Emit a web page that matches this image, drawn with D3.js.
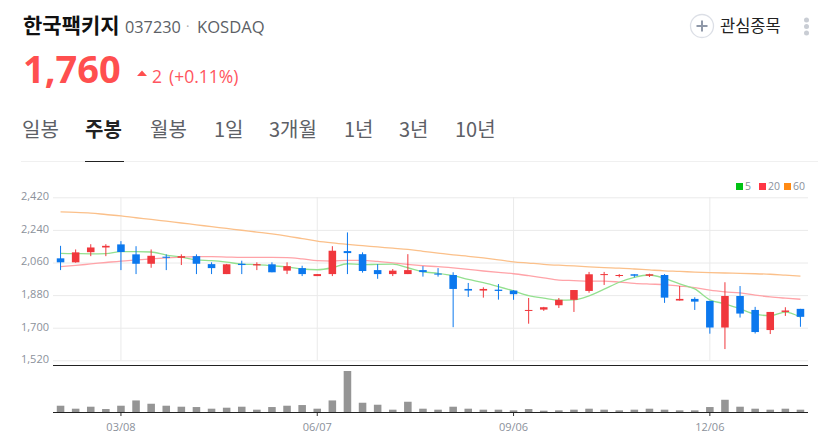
<!DOCTYPE html>
<html lang="ko">
<head>
<meta charset="utf-8">
<style>
  html, body { margin: 0; padding: 0; background: #fff; }
  svg { display: block; }
  text { font-family: "Open Sans", "Noto Sans CJK KR", sans-serif; }
  .kr { font-family: "Noto Sans CJK KR", sans-serif; }
  .axis text { font-family: "Open Sans", sans-serif; font-size: 11px; fill: #8b919b; }
  .axis .domain { display: none; }
</style>
</head>
<body>
<div id="chart-area"></div>
<script src="https://cdn.jsdelivr.net/npm/d3@7"></script>
<script>
const width = 818, height = 439;

// weekly candles
const dates = ["02/08","02/15","02/22","03/01","03/08","03/15","03/22","03/29","04/05","04/12",
  "04/19","04/26","05/03","05/10","05/17","05/24","05/31","06/07","06/14","06/21",
  "06/28","07/05","07/12","07/19","07/26","08/02","08/09","08/16","08/23","08/30",
  "09/06","09/13","09/20","09/27","10/04","10/11","10/18","10/25","11/01","11/08",
  "11/15","11/22","11/29","12/06","12/13","12/20","12/27","01/03","01/10","01/17"];
const open = [2083,2061,2117,2143,2160,2105,2053,2092,2086,2095,
  2051,1996,2053,2044,2050,2015,2029,1985,1996,2123,
  2106,2018,1996,1996,2018,1999,1991,1914,1905,1910,
  1905,1793,1800,1824,1854,1903,1991,1987,1995,1987,
  1991,1850,1859,1848,1701,1875,1798,1687,1787,1804];
const close = [2061,2116,2143,2152,2118,2053,2097,2086,2095,2053,
  2029,2050,2046,2051,2006,2040,1996,1996,2125,2112,
  2013,1996,2015,2018,2007,1993,1914,1905,1914,1903,
  1885,1798,1813,1854,1908,1995,1996,1991,1987,1995,
  1866,1859,1844,1701,1875,1778,1676,1787,1795,1760];
const high = [2152,2132,2161,2161,2178,2150,2132,2105,2105,2105,
  2061,2052,2070,2061,2061,2061,2042,1996,2150,2226,
  2116,2051,2024,2106,2040,2029,2006,1947,1923,1941,
  1908,1864,1815,1864,1908,2008,2008,1996,1995,1998,
  1996,1930,1868,1848,1951,1930,1815,1787,1813,1804];
const low = [2018,2059,2095,2095,2018,1996,2031,2018,2046,1996,
  1996,1996,1996,2018,2006,1996,1985,1985,1985,1996,
  2004,1970,1985,1996,1982,1982,1703,1870,1866,1855,
  1854,1722,1793,1809,1787,1893,1936,1978,1978,1980,
  1837,1850,1798,1667,1582,1756,1668,1665,1765,1705];
const volume = [19,10,16,9,19,35,25,19,16,15,
  10,13,16,7,15,19,21,10,35,124,
  28,22,7,31,10,7,16,10,7,7,
  5,9,4,5,7,10,7,5,7,10,
  7,5,5,15,37,16,10,7,10,7];

const ma5 = [2110,2109,2108,2109,2120,2120,2118,2101,2090,2074,
  2070,2062,2051,2048,2042,2035,2024,2020,2031,2053,
  2048,2050,2051,2031,2009,2000,1987,1967,1949,1927,
  1903,1877,1863,1852,1854,1876,1913,1951,1978,1991,
  1973,1942,1914,1854,1832,1804,1775,1766,1786,1758];
const ma20 = [2037,2044,2052,2060,2068,2074,2080,2085,2090,2092,
  2092,2090,2088,2088,2088,2087,2080,2070,2068,2072,
  2072,2066,2058,2050,2042,2037,2030,2022,2013,2005,
  1998,1987,1975,1963,1960,1957,1957,1952,1945,1941,
  1938,1930,1921,1907,1898,1892,1880,1870,1863,1857];
const ma60 = [2339,2337,2333,2325,2317,2307,2298,2288,2278,2268,
  2258,2248,2238,2228,2218,2206,2192,2178,2168,2160,
  2153,2146,2139,2132,2122,2112,2102,2094,2085,2075,
  2064,2057,2050,2045,2041,2036,2032,2029,2024,2019,
  2014,2011,2007,2004,2002,2000,1998,1995,1990,1985];

const priceTicks = [1520,1700,1880,2060,2240,2420];
const dateTicks = ["03/08","06/07","09/06","12/06"];
const periods = ["일봉","주봉","월봉","1일","3개월","1년","3년","10년"];
const periodX = [22,85,150,214,269,344,399,455];
const legendNames = ["5","20","60"];
const legendColors = ["#00c313","#ff3644","#ff8a13"];

const red = "#f0373c", blue = "#0b78ee";

const svg = d3.select("#chart-area").append("svg")
  .attr("width", width)
  .attr("height", height);

// header
const label = (x, y, size, color, txt, weight, cls) => svg.append("text")
  .attr("x", x).attr("y", y)
  .attr("font-size", size)
  .attr("font-weight", weight || 400)
  .attr("fill", color)
  .attr("class", cls || null)
  .text(txt);

label(23, 33, 21, "#111", "한국팩키지", 700, "kr");
label(125, 33, 16.3, "#5c5f66", "037230");
label(186, 31, 13, "#aaa", "·");
label(197, 33, 16.6, "#5c5f66", "KOSDAQ");
label(23, 83, 38, "#ff4f4f", "1,760", 700);
svg.append("path").attr("d", "M137 76L142 70.5L147 76Z").attr("fill", "#ff4f4f");
label(152, 83, 17.5, "#ff5560", "2");
label(169, 83, 17.5, "#ff5560", "(+0.11%)");

svg.append("circle").attr("cx", 702).attr("cy", 26).attr("r", 11.5)
  .attr("fill", "#fff").attr("stroke", "#dcdfe6").attr("stroke-width", 1.3);
svg.append("path").attr("d", "M696.5 26H707.5M702 20.5V31.5")
  .attr("stroke", "#8f98a8").attr("stroke-width", 2);
label(720, 32, 16.5, "#222", "관심종목", 400, "kr");
svg.selectAll(".dot").data([20, 26.5, 33]).enter().append("circle")
  .attr("cx", 806.5).attr("cy", d => d).attr("r", 2.5).attr("fill", "#c9cdd4");

// period tabs
periods.forEach((p, i) => {
  label(periodX[i], 137, 20, i === 1 ? "#222" : "#5d6066", p, i === 1 ? 700 : 400, "kr");
});
svg.append("line").attr("x1", 21).attr("x2", 818).attr("y1", 161.5).attr("y2", 161.5)
  .attr("stroke", "#f0f0f0");
svg.append("line").attr("x1", 85).attr("x2", 124).attr("y1", 161.5).attr("y2", 161.5)
  .attr("stroke", "#222");

// scales
const left = 53, right = 808;
const x = d3.scaleBand().domain(dates).range([left, right]).paddingInner(0.5).paddingOuter(0.25);
const cx = d => x(d) + x.bandwidth() / 2;
const y = d3.scaleLinear().domain([1520, 2420]).range([360.3, 197.3]);
const v = d3.scaleLinear().domain([0, 124]).range([412, 371]);

// grid + price axis
svg.append("g")
  .attr("class", "axis")
  .attr("transform", `translate(${left},0)`)
  .call(d3.axisLeft(y).tickValues(priceTicks).tickSize(0).tickPadding(4).tickFormat(d3.format(",")))
  .call(g => g.selectAll(".tick line").attr("x2", right - left).attr("stroke", "#eaeaea"))
  .call(g => g.selectAll(".tick text").attr("dy", "0.22em"));

svg.append("g").selectAll("line").data(dateTicks).enter().append("line")
  .attr("x1", cx).attr("x2", cx)
  .attr("y1", 197).attr("y2", 360.5)
  .attr("stroke", "#eaeaea");

// moving averages
const line = d3.line().x((d, i) => cx(dates[i])).y(d => y(d)).curve(d3.curveMonotoneX);
[[ma60, "#fbc08a"], [ma20, "#ffa3a8"], [ma5, "#93e08f"]].forEach(([s, c]) => {
  svg.append("path").datum(s)
    .attr("fill", "none")
    .attr("stroke", c)
    .attr("stroke-width", 1.3)
    .attr("d", line);
});

// candles
const candles = svg.append("g").selectAll("g").data(dates).enter().append("g");
const color = (d, i) => close[i] >= open[i] ? red : blue;
candles.append("line")
  .attr("x1", cx).attr("x2", cx)
  .attr("y1", (d, i) => y(high[i]))
  .attr("y2", (d, i) => y(low[i]))
  .attr("stroke", color);
candles.append("rect")
  .attr("x", d => x(d))
  .attr("width", x.bandwidth())
  .attr("y", (d, i) => y(Math.max(open[i], close[i])))
  .attr("height", (d, i) => Math.max(1, Math.abs(y(open[i]) - y(close[i]))))
  .attr("fill", color);

// legend
const legendX = [736, 759, 784];
legendNames.forEach((n, i) => {
  svg.append("rect").attr("x", legendX[i]).attr("y", 183).attr("width", 7).attr("height", 7)
    .attr("fill", legendColors[i]);
  label(legendX[i] + 9, 190, 10.5, "#8b919b", n);
});

// volume pane
svg.append("line").attr("x1", left).attr("x2", right).attr("y1", 365.5).attr("y2", 365.5)
  .attr("stroke", "#222").attr("stroke-width", 1);
svg.append("g").selectAll("rect").data(volume).enter().append("rect")
  .attr("x", (d, i) => x(dates[i]))
  .attr("width", x.bandwidth())
  .attr("y", d => v(d))
  .attr("height", d => v(0) - v(d))
  .attr("fill", "#959595");

svg.append("g")
  .attr("class", "axis")
  .attr("transform", "translate(0,412)")
  .call(d3.axisBottom(x).tickValues(dateTicks).tickSize(4).tickPadding(7))
  .call(g => g.selectAll(".tick line").attr("stroke", "#333"));
svg.append("line").attr("x1", left).attr("x2", right).attr("y1", 412.5).attr("y2", 412.5)
  .attr("stroke", "#222");
</script>
</body>
</html>
